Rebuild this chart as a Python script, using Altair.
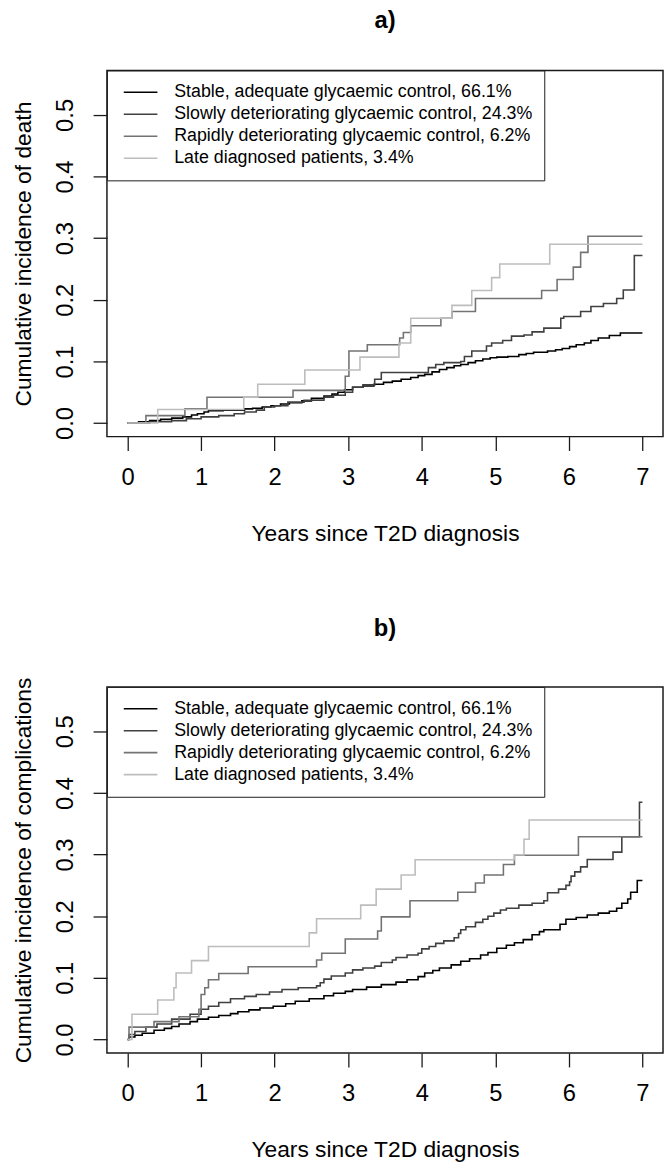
import altair as alt
import pandas as pd

groups = [
    "Stable, adequate glycaemic control, 66.1%",
    "Slowly deteriorating glycaemic control, 24.3%",
    "Rapidly deteriorating glycaemic control, 6.2%",
    "Late diagnosed patients, 3.4%",
]
colors = ["#000000", "#404040", "#737373", "#bdbdbd"]
x_ticks = [0, 1, 2, 3, 4, 5, 6, 7]
y_ticks = [0.0, 0.1, 0.2, 0.3, 0.4, 0.5]

# ---- panel a) cumulative incidence of death: (years, value) step points ----
a_stable = [(0, 0), (0.15, 0.002), (0.3, 0.004), (0.45, 0.006), (0.6, 0.008), (0.75, 0.010),
            (0.87, 0.013), (0.95, 0.015), (1.04, 0.018), (1.1, 0.020), (1.3, 0.021), (1.59, 0.023),
            (1.7, 0.024), (1.83, 0.026), (1.95, 0.028), (2.08, 0.031), (2.2, 0.033), (2.37, 0.036),
            (2.5, 0.040), (2.67, 0.044), (2.78, 0.047), (2.86, 0.050), (2.95, 0.054), (3.06, 0.058),
            (3.2, 0.060), (3.35, 0.063), (3.48, 0.066), (3.6, 0.068), (3.72, 0.071), (3.85, 0.074),
            (3.95, 0.077), (4.04, 0.079), (4.14, 0.083), (4.24, 0.087), (4.34, 0.090), (4.44, 0.093),
            (4.53, 0.095), (4.63, 0.098), (4.73, 0.101), (4.83, 0.104), (4.93, 0.106), (5.02, 0.107),
            (5.17, 0.108), (5.32, 0.111), (5.42, 0.113), (5.52, 0.115), (5.71, 0.117), (5.82, 0.119),
            (5.91, 0.121), (6.01, 0.124), (6.1, 0.127), (6.21, 0.130), (6.3, 0.134), (6.4, 0.138),
            (6.55, 0.142), (6.7, 0.146), (7.0, 0.146)]
a_slowly = [(0, 0), (0.3, 0.002), (0.6, 0.004), (0.8, 0.007), (1.0, 0.010), (1.24, 0.012),
            (1.45, 0.015), (1.59, 0.018), (1.75, 0.021), (1.86, 0.026), (2.0, 0.028), (2.18, 0.034),
            (2.4, 0.037), (2.67, 0.042), (2.8, 0.045), (2.96, 0.050), (3.06, 0.058), (3.2, 0.062),
            (3.36, 0.071), (3.45, 0.082), (4.09, 0.090), (4.19, 0.095), (4.3, 0.098), (4.53, 0.100),
            (4.58, 0.108), (4.68, 0.117), (4.88, 0.125), (4.95, 0.130), (5.1, 0.134), (5.22, 0.141),
            (5.39, 0.143), (5.5, 0.148), (5.66, 0.154), (5.89, 0.170), (5.93, 0.173), (6.16, 0.181),
            (6.3, 0.189), (6.47, 0.194), (6.65, 0.202), (6.74, 0.216), (6.89, 0.272), (7.0, 0.272)]
a_rapidly = [(0, 0), (0.25, 0.012), (0.78, 0.023), (1.08, 0.042), (2.25, 0.053), (2.96, 0.076),
             (3.01, 0.117), (3.26, 0.127), (3.7, 0.138), (3.75, 0.147), (3.85, 0.158), (4.26, 0.170),
             (4.41, 0.181), (4.73, 0.202), (5.63, 0.215), (5.84, 0.233), (6.06, 0.253), (6.16, 0.277),
             (6.26, 0.303), (7.0, 0.303)]
a_late = [(0, 0), (0.41, 0.022), (1.58, 0.042), (1.77, 0.063), (2.41, 0.086), (3.16, 0.107),
          (3.69, 0.130), (3.85, 0.170), (4.41, 0.191), (4.68, 0.215), (4.95, 0.236), (5.06, 0.258),
          (5.74, 0.290), (7.0, 0.290)]

# ---- panel b) cumulative incidence of complications ----
b_stable = [(0, 0), (0.02, 0.004), (0.1, 0.007), (0.2, 0.010), (0.36, 0.015), (0.5, 0.018),
            (0.6, 0.021), (0.7, 0.025), (0.85, 0.029), (0.95, 0.033), (1.1, 0.036), (1.24, 0.039),
            (1.4, 0.042), (1.5, 0.045), (1.65, 0.048), (1.8, 0.051), (1.98, 0.054), (2.15, 0.058),
            (2.28, 0.062), (2.47, 0.066), (2.67, 0.071), (2.8, 0.075), (2.96, 0.078), (3.06, 0.081),
            (3.25, 0.085), (3.45, 0.089), (3.65, 0.093), (3.8, 0.097), (3.95, 0.102), (4.04, 0.108),
            (4.15, 0.112), (4.24, 0.116), (4.4, 0.121), (4.53, 0.127), (4.65, 0.131), (4.8, 0.137),
            (4.9, 0.141), (5.02, 0.148), (5.15, 0.153), (5.26, 0.157), (5.38, 0.162), (5.5, 0.170),
            (5.6, 0.175), (5.66, 0.178), (5.88, 0.187), (5.96, 0.195), (6.1, 0.198), (6.25, 0.202),
            (6.4, 0.205), (6.55, 0.208), (6.65, 0.213), (6.72, 0.221), (6.8, 0.228), (6.84, 0.239),
            (6.93, 0.258), (7.0, 0.258)]
b_slowly = [(0, 0), (0.02, 0.008), (0.1, 0.013), (0.25, 0.020), (0.4, 0.025), (0.6, 0.033),
            (0.85, 0.041), (1.0, 0.049), (1.1, 0.054), (1.24, 0.060), (1.4, 0.066), (1.59, 0.070),
            (1.75, 0.073), (1.93, 0.077), (2.1, 0.081), (2.32, 0.084), (2.57, 0.087), (2.62, 0.092),
            (2.67, 0.098), (2.77, 0.103), (2.96, 0.108), (3.06, 0.113), (3.2, 0.116), (3.36, 0.119),
            (3.45, 0.125), (3.6, 0.129), (3.65, 0.133), (3.8, 0.137), (3.95, 0.140), (4.0, 0.147),
            (4.1, 0.151), (4.19, 0.156), (4.3, 0.160), (4.44, 0.165), (4.5, 0.172), (4.53, 0.178),
            (4.6, 0.183), (4.73, 0.190), (4.83, 0.195), (4.9, 0.200), (4.98, 0.205), (5.07, 0.210),
            (5.15, 0.213), (5.32, 0.218), (5.5, 0.221), (5.66, 0.225), (5.71, 0.238), (5.86, 0.244),
            (5.96, 0.250), (6.01, 0.256), (6.03, 0.265), (6.08, 0.272), (6.16, 0.280), (6.25, 0.292),
            (6.6, 0.304), (6.72, 0.329), (6.96, 0.385), (7.0, 0.385)]
b_rapidly = [(0, 0), (0.02, 0.020), (0.36, 0.029), (0.7, 0.037), (0.97, 0.049), (1.0, 0.073),
             (1.05, 0.084), (1.1, 0.097), (1.24, 0.107), (1.64, 0.118), (2.57, 0.129), (2.64, 0.140),
             (2.96, 0.163), (3.4, 0.176), (3.45, 0.199), (3.84, 0.225), (4.49, 0.239), (4.73, 0.254),
             (4.85, 0.267), (5.11, 0.284), (5.26, 0.299), (6.13, 0.329), (7.0, 0.329)]
b_late = [(0, 0), (0.06, 0.041), (0.41, 0.064), (0.63, 0.084), (0.66, 0.108), (0.87, 0.128),
          (1.1, 0.151), (2.47, 0.173), (2.57, 0.196), (3.17, 0.218), (3.38, 0.244), (3.72, 0.267),
          (3.91, 0.2915), (5.26, 0.2995), (5.39, 0.325), (5.46, 0.356), (7.0, 0.356)]

FONT = "Liberation Sans"
INK = "#1a1a1a"


def to_df(series_list):
    rows = []
    for g, series in zip(groups, series_list):
        for i, (t, v) in enumerate(series):
            rows.append({"group": g, "t": t, "v": v, "i": i})
    return pd.DataFrame(rows)


def panel(df, title, ytitle):
    return alt.Chart(df).mark_line(
        interpolate="step-after", strokeWidth=1.6, clip=True
    ).encode(
        x=alt.X("t:Q",
                scale=alt.Scale(domain=[-0.28, 7.28], nice=False, zero=False),
                axis=alt.Axis(values=x_ticks, format="d", title="Years since T2D diagnosis",
                              labelPadding=15, titleY=105, titleBaseline="alphabetic")),
        y=alt.Y("v:Q",
                scale=alt.Scale(domain=[-0.022, 0.572], nice=False, zero=False),
                axis=alt.Axis(values=y_ticks, format=".1f", title=ytitle,
                              labelAngle=270, labelAlign="center", labelBaseline="bottom",
                              labelPadding=16, titleAngle=270, titleAlign="center",
                              titleBaseline="alphabetic", titleX=-77.5)),
        color=alt.Color("group:N", sort=groups,
                        scale=alt.Scale(domain=groups, range=colors),
                        legend=alt.Legend(title=None, orient="top-left", offset=0)),
        order=alt.Order("i:Q"),
    ).properties(
        width=562, height=370,
        title=alt.TitleParams(title, fontSize=24, fontWeight="bold", anchor="middle",
                              baseline="alphabetic", offset=18, font=FONT, color="black"),
    )


pa = panel(to_df([a_stable, a_slowly, a_rapidly, a_late]), "a)",
           "Cumulative incidence of death")
pb = panel(to_df([b_stable, b_slowly, b_rapidly, b_late]), "b)",
           "Cumulative incidence of complications")

chart = alt.vconcat(pa, pb, spacing=253, bounds="flush").resolve_legend(
    color="independent"
).properties(
    padding={"left": 3, "top": -6, "right": 0, "bottom": 0}
).configure_view(
    stroke=INK, strokeWidth=1.5
).configure_axis(
    domain=False, grid=False, tickColor=INK, tickSize=14, tickWidth=1.3,
    labelFont=FONT, labelFontSize=24, labelColor="black",
    titleFont=FONT, titleFontSize=23, titleFontWeight="normal", titleColor="black",
).configure_legend(
    padding=11, strokeColor=INK, fillColor="white",
    symbolType="stroke", symbolSize=1156, symbolStrokeWidth=1.6, symbolOffset=5,
    labelOffset=16, labelFont=FONT, labelFontSize=18, labelColor="black", labelLimit=700,
    clipHeight=22, rowPadding=0.2,
)

chart.save("out.html", embed_options={"renderer": "svg", "actions": False})
